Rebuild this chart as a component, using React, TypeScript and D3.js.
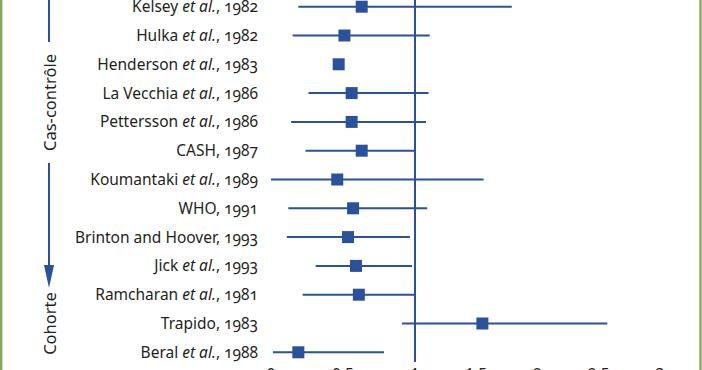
import React from "react";
import * as d3 from "d3";

const authors = [
  "Kelsey", "Hulka", "Henderson", "La Vecchia", "Pettersson", "CASH", "Koumantaki",
  "WHO", "Brinton and Hoover", "Jick", "Ramcharan", "Trapido", "Beral",
];
const etAl = [true, true, true, true, true, false, true, false, false, true, true, false, true];
const years = [1982, 1982, 1983, 1986, 1986, 1987, 1989, 1991, 1993, 1993, 1981, 1983, 1988];
const estimates = [0.63, 0.51, 0.47, 0.56, 0.56, 0.63, 0.46, 0.57, 0.535, 0.59, 0.61, 1.55, 0.19];
const lower = [0.19, 0.15, null, 0.26, 0.14, 0.24, 0.0, 0.12, 0.11, 0.31, 0.22, 0.91, 0.014];
const upper = [1.79, 1.12, null, 1.11, 1.09, 1.0, 1.56, 1.1, 0.965, 0.98, 1.0, 2.57, 0.785];
const tickValues = [0, 0.5, 1, 1.5, 2, 2.5, 3];
const groupLabels = ["Cas-contrôle", "Cohorte"];

const W = 702;
const H = 370;
const BLUE = "#2b519b";
const GREEN = "#8aa85a";
const TEXT = "#231f20";
const FONT = "'Noto Sans', sans-serif";

export default function App() {
  const x = d3.scaleLinear().domain([0, 1, 3]).range([271, 415, 660]);
  const y = d3.scalePoint<number>().domain(d3.range(authors.length)).range([6.7, 352.3]);
  const fmt = (v: number) => String(v).replace(".", ",");

  return (
    <svg
      width={W}
      height={H}
      style={{ position: "absolute", left: 0, top: 0, background: "#fff" }}
      fontFamily={FONT}
    >
      <rect x={0} y={0} width={W} height={H} fill="#fff" />
      {/* green frame sides */}
      <line x1={1.2} x2={1.2} y1={0} y2={H} stroke={GREEN} strokeWidth={2.4} />
      <line x1={700.5} x2={700.5} y1={0} y2={H} stroke={GREEN} strokeWidth={2.4} />

      {/* reference line at 1 */}
      <line x1={x(1)} x2={x(1)} y1={0} y2={362} stroke={BLUE} strokeWidth={2} />

      {/* rows */}
      {authors.map((a, i) => {
        const cy = y(i) as number;
        const lo = lower[i];
        const hi = upper[i];
        return (
          <g key={a}>
            <text
              x={258}
              y={cy}
              dy="0.36em"
              textAnchor="end"
              fontSize={15.5}
              fill={TEXT}
              style={{ fontVariantNumeric: "oldstyle-nums" }}
            >
              {etAl[i] ? (
                <>
                  <tspan>{a} </tspan>
                  <tspan fontStyle="italic">et al.</tspan>
                  <tspan>, {years[i]}</tspan>
                </>
              ) : (
                <tspan>{a}, {years[i]}</tspan>
              )}
            </text>
            {lo !== null && hi !== null && (
              <line x1={x(lo)} x2={x(hi)} y1={cy} y2={cy} stroke={BLUE} strokeWidth={2} />
            )}
            <rect x={x(estimates[i]) - 6} y={cy - 6} width={12} height={12} fill={BLUE} />
          </g>
        );
      })}

      {/* x tick labels (cut off at bottom) */}
      {tickValues.map((t) => (
        <text key={t} x={x(t)} y={380} textAnchor="middle" fontSize={15.5} fill={TEXT}>
          {fmt(t)}
        </text>
      ))}

      {/* group annotation */}
      <line x1={49} x2={49} y1={0} y2={42} stroke={BLUE} strokeWidth={2} />
      <text
        transform={`translate(56,102.5) rotate(-90)`}
        textAnchor="middle"
        fontSize={16.5}
        fill={TEXT}
      >
        {groupLabels[0]}
      </text>
      <line x1={49} x2={49} y1={163} y2={270} stroke={BLUE} strokeWidth={2} />
      <polygon points="44,265 54,265 49,288" fill={BLUE} />
      <text
        transform={`translate(56,323.5) rotate(-90)`}
        textAnchor="middle"
        fontSize={16.5}
        fill={TEXT}
      >
        {groupLabels[1]}
      </text>
    </svg>
  );
}
